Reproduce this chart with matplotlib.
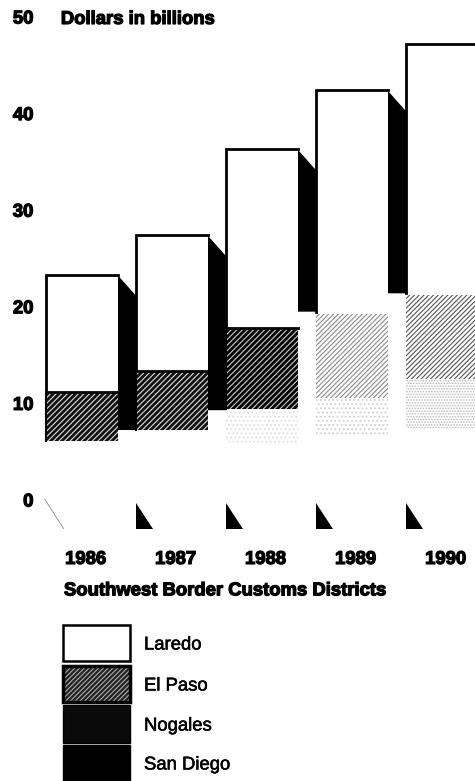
import matplotlib
matplotlib.use("Agg")
import matplotlib.pyplot as plt
import matplotlib.patheffects as pe
from matplotlib.patches import Rectangle

years = ["1986", "1987", "1988", "1989", "1990"]
yticks = [0, 10, 20, 30, 40, 50]

# stack boundaries, dollars in billions
laredo_top = [23.4, 27.5, 36.4, 42.5, 47.3]
elpaso_top = [11.3, 13.5, 17.9, 19.4, 21.3]
nogales_top = [6.2, 7.3, 9.5, 10.7, 12.6]
sandiego_top = [4.8, 4.5, 6.0, 6.8, 7.6]
side_floor = [7.35, 9.4, 19.6, 21.5, 22.5]

legend_names = ["Laredo", "El Paso", "Nogales", "San Diego"]

BAR_W = 0.79
DEPTH_X = 0.21
DEPTH_Y = 2.2
Y_SCALE = 9.66  # px per billion
X_SCALE = 90.0  # px per year

plt.rcParams["font.family"] = ["Liberation Sans", "DejaVu Sans"]
plt.rcParams["hatch.linewidth"] = 0.8

fig = plt.figure(figsize=(4.75, 7.81), dpi=100)
ax = fig.add_axes([0, 0, 1, 1])
ax.set_xlim(-82 / X_SCALE, (475 - 82) / X_SCALE)
ax.set_ylim(-(781 - 501) / Y_SCALE, 501 / Y_SCALE)
ax.axis("off")

fat = [pe.withStroke(linewidth=0.9, foreground="black")]


def label(x, y, s, size=13.3, weight="bold", ha="left", stroke=fat):
    ax.text(x, y, s, fontsize=size, fontweight=weight, ha=ha, va="center",
            color="black", path_effects=stroke)


# halftones get lighter from left to right, the scan washed them out
elpaso_style = [
    dict(facecolor="#111111", hatch="//////", edgecolor="#dddddd"),
    dict(facecolor="#111111", hatch="//////", edgecolor="#dddddd"),
    dict(facecolor="#000000", hatch="//////", edgecolor="#cccccc"),
    dict(facecolor="#ffffff", hatch="///////", edgecolor="#8a8a8a"),
    dict(facecolor="#ffffff", hatch="///////", edgecolor="#555555"),
]
nogales_style = [
    dict(facecolor="white", hatch=None, edgecolor="white"),
    dict(facecolor="white", hatch=None, edgecolor="white"),
    dict(facecolor="white", hatch="....", edgecolor="#dddddd"),
    dict(facecolor="white", hatch="....", edgecolor="#d0d0d0"),
    dict(facecolor="white", hatch="......", edgecolor="#bbbbbb"),
]

xs = list(range(len(years)))

for i in xs:
    left = i - BAR_W / 2
    right = i + BAR_W / 2

    # black side face
    ax.fill([right, right + DEPTH_X, right + DEPTH_X, right],
            [laredo_top[i], laredo_top[i] - DEPTH_Y, side_floor[i], side_floor[i]],
            color="black", lw=0, zorder=1)

    ax.bar(i, nogales_top[i] - sandiego_top[i], BAR_W, bottom=sandiego_top[i],
           linewidth=0, zorder=2, **nogales_style[i])
    ax.bar(i, elpaso_top[i] - nogales_top[i], BAR_W, bottom=nogales_top[i],
           linewidth=0, zorder=2, **elpaso_style[i])
    ax.bar(i, laredo_top[i] - elpaso_top[i], BAR_W, bottom=elpaso_top[i],
           color="white", linewidth=0, zorder=2)

    # outline only where the scan kept it
    line_start = elpaso_top[i] if i < 3 else side_floor[i - 1]
    ax.plot([left, left, right], [line_start, laredo_top[i], laredo_top[i]],
            color="black", lw=2.0, zorder=3, solid_joinstyle="miter")
    if i < 3:
        ax.plot([left, right], [elpaso_top[i], elpaso_top[i]],
                color="black", lw=2.0, zorder=3)
        ax.plot([left, left], [nogales_top[i], elpaso_top[i]],
                color="black", lw=1.5, zorder=3)

    # wedge under the axis
    if i == 0:
        ax.plot([left - 0.02, left + 0.19], [0.2, -2.85], color="#888888", lw=0.6)
    else:
        ax.fill([left, left, left + 0.18], [-0.2, -2.9, -2.9], color="black", lw=0)

    label(i + 0.04, -6.05, years[i], ha="center")

for v in yticks:
    label(-0.54, v - 0.1, str(v), ha="right")

label(-0.235, 49.85, "Dollars in billions")
label(-0.2, -9.3, "Southwest Border Customs Districts")

# legend
swatch_x = 63 / 475
swatch_w = 67 / 475
swatches = [
    (661, 36, dict(facecolor="white", edgecolor="black", linewidth=1.8)),
    (702, 36, dict(facecolor="#222222", edgecolor="black", linewidth=1.5)),
    (743, 38, dict(facecolor="#0a0a0a", edgecolor="black", linewidth=1.0)),
    (781, 36, dict(facecolor="black", edgecolor="black", linewidth=1.0)),
]
for (bottom, height, style), name in zip(swatches, legend_names):
    p = Rectangle((swatch_x, 1 - bottom / 781), swatch_w, height / 781,
                  transform=fig.transFigure, clip_on=False, **style)
    if name == "El Paso":
        p.set_hatch("///////")
        p.set_edgecolor("#aaaaaa")
    fig.add_artist(p)
    if name == "El Paso":
        fig.add_artist(Rectangle((swatch_x, 1 - bottom / 781), swatch_w, height / 781,
                                 transform=fig.transFigure, fill=False,
                                 edgecolor="black", linewidth=2.5))
    fig.text(144 / 475, 1 - (bottom - height / 2 + 2) / 781, name, fontsize=13.3,
             va="center", color="black",
             path_effects=[pe.withStroke(linewidth=0.4, foreground="black")])

fig.savefig("out.png", dpi=100)
